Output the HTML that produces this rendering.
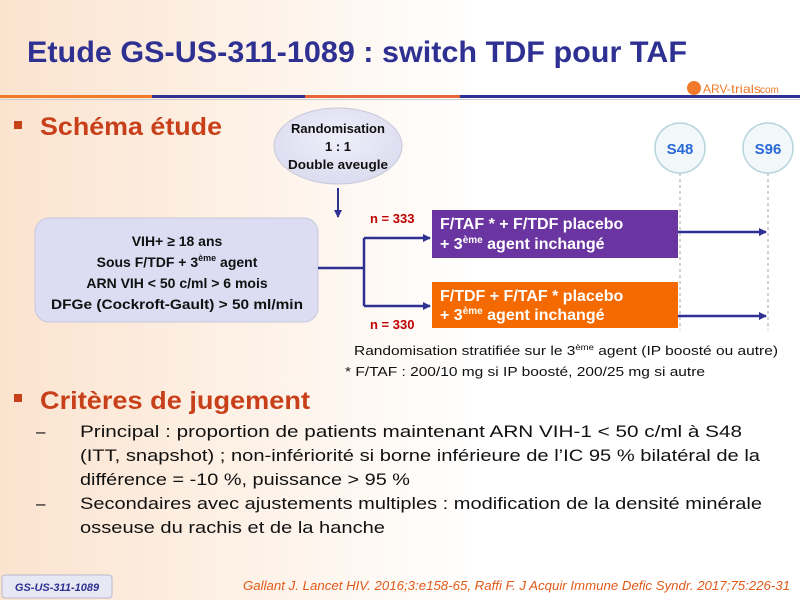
<!DOCTYPE html>
<html><head><meta charset="utf-8"><style>
html,body{margin:0;padding:0;width:800px;height:600px;overflow:hidden;background:#fff}
svg{display:block}
text{font-family:"Liberation Sans",sans-serif}
</style></head><body>
<svg width="800" height="600" viewBox="0 0 800 600" xmlns="http://www.w3.org/2000/svg">
<defs>
<linearGradient id="bg" x1="0" y1="0" x2="1" y2="0">
<stop offset="0" stop-color="#fbe3cf"/><stop offset="0.3" stop-color="#fdf1e6"/><stop offset="0.6" stop-color="#fff"/>
</linearGradient>
<radialGradient id="ell" cx="0.5" cy="0.4" r="0.6"><stop offset="0" stop-color="#eeeefa"/><stop offset="1" stop-color="#dcdcf0"/></radialGradient>
<marker id="ar" markerWidth="8" markerHeight="8" refX="7" refY="4" orient="auto" markerUnits="userSpaceOnUse"><path d="M0,0 L8,4 L0,8 z" fill="#2e3192"/></marker>
</defs>
<rect width="800" height="600" fill="url(#bg)"/>
<text x="27" y="62" font-size="30" font-weight="bold" fill="#2e3192" textLength="660" lengthAdjust="spacingAndGlyphs">Etude GS-US-311-1089 : switch TDF pour TAF</text>
<rect x="0" y="95" width="152" height="3" fill="#f07a2a"/>
<rect x="152" y="95" width="153" height="3" fill="#2e3192"/>
<rect x="305" y="95" width="155" height="3" fill="#e8643a"/>
<rect x="460" y="95" width="340" height="3" fill="#2e3192"/>
<rect x="0" y="99" width="800" height="1" fill="#ccc"/>
<circle cx="694" cy="88" r="7" fill="#f07a2a"/>
<text x="703" y="93" font-size="12" fill="#f07a2a">ARV-</text>
<text x="731" y="93" font-size="12" fill="#f07a2a" textLength="30" lengthAdjust="spacingAndGlyphs">trials</text><text x="760" y="93" font-size="10" fill="#f07a2a">com</text>

<rect x="14" y="121" width="8" height="8" fill="#c8401a"/>
<text x="40" y="135" font-size="25" font-weight="bold" fill="#c8401a" textLength="182" lengthAdjust="spacingAndGlyphs">Schéma étude</text>

<ellipse cx="338" cy="146" rx="64" ry="38" fill="url(#ell)" stroke="#c8c8d8"/>
<text x="338" y="133" font-size="13" font-weight="bold" fill="#111" text-anchor="middle">Randomisation</text>
<text x="338" y="151" font-size="13" font-weight="bold" fill="#111" text-anchor="middle">1 : 1</text>
<text x="338" y="169" font-size="13" font-weight="bold" fill="#111" text-anchor="middle" textLength="100" lengthAdjust="spacingAndGlyphs">Double aveugle</text>
<line x1="338" y1="188" x2="338" y2="217" stroke="#2e3192" stroke-width="2" marker-end="url(#ar)"/>

<circle cx="680" cy="148" r="25" fill="#f2f8fa" stroke="#b8d4dc" stroke-width="1.5"/>
<text x="680" y="154" font-size="15" font-weight="bold" fill="#2a6ad8" text-anchor="middle">S48</text>
<circle cx="768" cy="148" r="25" fill="#f2f8fa" stroke="#b8d4dc" stroke-width="1.5"/>
<text x="768" y="154" font-size="15" font-weight="bold" fill="#2a6ad8" text-anchor="middle">S96</text>
<line x1="680" y1="173" x2="680" y2="330" stroke="#aaa" stroke-dasharray="3,3"/>
<line x1="768" y1="173" x2="768" y2="330" stroke="#aaa" stroke-dasharray="3,3"/>

<rect x="35" y="218" width="283" height="104" rx="14" fill="#dcdcf2" stroke="#c8c8dc"/>
<g font-size="14" font-weight="bold" fill="#111" text-anchor="middle">
<text x="177" y="246">VIH+ ≥ 18 ans</text>
<text x="177" y="267">Sous F/TDF + 3<tspan font-size="9" dy="-6">ème</tspan><tspan dy="6"> agent</tspan></text>
<text x="177" y="288">ARN VIH &lt; 50 c/ml &gt; 6 mois</text>
<text x="177" y="309" textLength="252" lengthAdjust="spacingAndGlyphs">DFGe (Cockroft-Gault)  &gt; 50 ml/min</text>
</g>
<g stroke="#2e3192" stroke-width="2.5" fill="none">
<line x1="318" y1="268" x2="364" y2="268"/>
<line x1="364" y1="238" x2="364" y2="306"/>
<line x1="364" y1="238" x2="430" y2="238" marker-end="url(#ar)"/>
<line x1="364" y1="306" x2="430" y2="306" marker-end="url(#ar)"/>
<line x1="678" y1="232" x2="766" y2="232" marker-end="url(#ar)"/>
<line x1="678" y1="316" x2="766" y2="316" marker-end="url(#ar)"/>
</g>
<text x="370" y="223" font-size="13" font-weight="bold" fill="#c00000">n = 333</text>
<text x="370" y="329" font-size="13" font-weight="bold" fill="#c00000">n = 330</text>
<rect x="432" y="210" width="246" height="48" fill="#6a35a0"/>
<rect x="432" y="282" width="246" height="46" fill="#f56a00"/>
<g font-weight="bold" fill="#fff">
<text x="440" y="229" font-size="16">F/TAF * + F/TDF placebo</text>
<text x="440" y="249" font-size="16">+ 3<tspan font-size="10" dy="-6">ème</tspan><tspan dy="6"> agent inchangé</tspan></text>
<text x="440" y="301" font-size="16">F/TDF + F/TAF * placebo</text>
<text x="440" y="320" font-size="16">+ 3<tspan font-size="10" dy="-6">ème</tspan><tspan dy="6"> agent inchangé</tspan></text>
</g>
<text x="354" y="355" font-size="13" fill="#111" textLength="424" lengthAdjust="spacingAndGlyphs">Randomisation stratifiée sur le 3<tspan font-size="8" dy="-5">ème</tspan><tspan dy="5"> agent (IP boosté ou autre)</tspan></text>
<text x="345" y="376" font-size="13" fill="#111" textLength="360" lengthAdjust="spacingAndGlyphs">* F/TAF : 200/10 mg si IP boosté, 200/25 mg si autre</text>

<rect x="14" y="394" width="8" height="8" fill="#c8401a"/>
<text x="40" y="409" font-size="25" font-weight="bold" fill="#c8401a" textLength="270" lengthAdjust="spacingAndGlyphs">Critères de jugement</text>
<g font-size="17" fill="#111">
<text x="36" y="437">–</text>
<text x="80" y="437" textLength="662" lengthAdjust="spacingAndGlyphs">Principal : proportion de patients maintenant ARN VIH-1  &lt; 50 c/ml à S48</text>
<text x="80" y="461" textLength="680" lengthAdjust="spacingAndGlyphs">(ITT, snapshot) ; non-infériorité si borne inférieure de l’IC 95 % bilatéral de la</text>
<text x="80" y="485" textLength="330" lengthAdjust="spacingAndGlyphs">différence = -10 %, puissance &gt; 95 %</text>
<text x="36" y="509">–</text>
<text x="80" y="509" textLength="682" lengthAdjust="spacingAndGlyphs">Secondaires avec ajustements multiples : modification de la densité minérale</text>
<text x="80" y="533" textLength="305" lengthAdjust="spacingAndGlyphs">osseuse du rachis et de la hanche</text>
</g>
<rect x="2" y="575" width="110" height="23" rx="3" fill="#e8e8f4" stroke="#b8b8cc"/>
<text x="57" y="591" font-size="11" font-weight="bold" font-style="italic" fill="#2e3192" text-anchor="middle" font-family="Liberation Serif, serif">GS-US-311-1089</text>
<text x="243" y="590" font-size="13" font-style="italic" fill="#e05a1a" textLength="547" lengthAdjust="spacingAndGlyphs">Gallant J. Lancet HIV. 2016;3:e158-65, Raffi F. J Acquir Immune Defic Syndr. 2017;75:226-31</text>
</svg>
</body></html>
